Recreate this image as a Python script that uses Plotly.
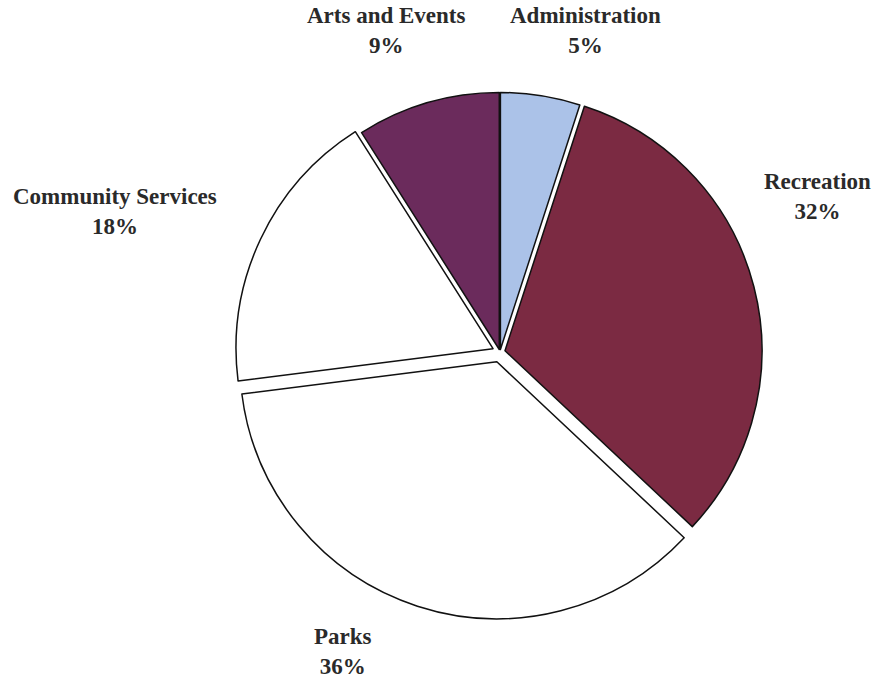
import plotly.graph_objects as go

categories = ["Administration", "Recreation", "Parks", "Community Services", "Arts and Events"]
values = [5, 32, 36, 18, 9]
pct_labels = ["5%", "32%", "36%", "18%", "9%"]
colors = ["#abc2e8", "#7b2a42", "#ffffff", "#ffffff", "#6b2b5c"]
pulls = [0.01, 0.02, 0.04, 0.03, 0.01]

# label anchor positions (paper coords)
label_x = [0.672, 0.937, 0.3933, 0.1319, 0.4438]
label_y = [0.9553, 0.7116, 0.0454, 0.6903, 0.9553]

fig = go.Figure(go.Pie(
    labels=categories,
    values=values,
    sort=False,
    direction="clockwise",
    rotation=0,
    pull=pulls,
    marker=dict(colors=colors, line=dict(color="#111111", width=1.5)),
    textinfo="none",
    hoverinfo="label+percent",
    showlegend=False,
    domain=dict(x=[0.2669, 0.8799], y=[0.0933, 0.876]),
))

annotations = []
for name, pct, x, y in zip(categories, pct_labels, label_x, label_y):
    annotations.append(dict(
        text=f"<b>{name}</b><br><b>{pct}</b>",
        x=x, y=y, xref="paper", yref="paper",
        xanchor="center", yanchor="middle",
        showarrow=False,
        font=dict(family="Liberation Serif, Times New Roman, serif", size=23, color="#2a2a2a"),
        align="center",
    ))

fig.update_layout(
    width=872, height=683,
    margin=dict(l=0, r=0, t=0, b=0),
    paper_bgcolor="white",
    plot_bgcolor="white",
    annotations=annotations,
)

fig.write_html("out.html")
